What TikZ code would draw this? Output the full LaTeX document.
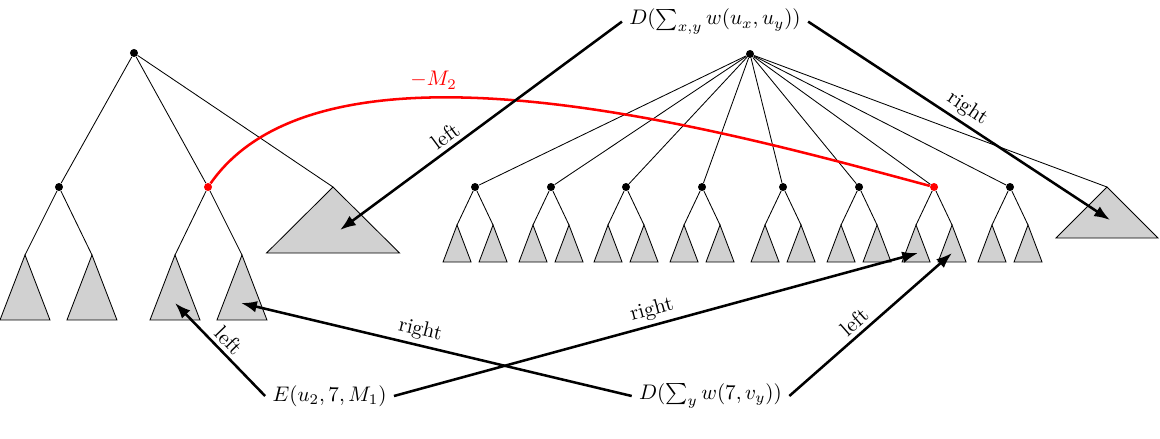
\documentclass[tikz,border=0pt]{standalone}
\usepackage{amsmath,amssymb}
\usepackage{tikz}
\usetikzlibrary{arrows.meta,positioning}

\begin{document}
\begin{tikzpicture}[
  dot/.style={circle, fill, inner sep=0pt, minimum size=3.8pt},
  reddot/.style={dot, fill=red},
  sub/.style={draw, fill=black!18},
  arrow/.style={-{Latex[length=7.5pt,width=5.5pt]}, very thick},
  side/.style={sloped, above, inner sep=2pt},
  bridge/.style={red, very thick},
]
\useasboundingbox (0,0) rectangle (19.333,7.3);

% Left tree
\node[dot] (lroot) at (2.233,6.417) {};
\node[dot] (la) at (0.983,4.183) {};
\node[reddot] (lb) at (3.467,4.183) {};
\coordinate (lc) at (5.55,4.183);
\draw[sub] (lc) -- ++(-1.108,-1.1) -- ++(2.217,0) -- cycle;
\draw (lroot) -- (la) (lroot) -- (lb) (lroot) -- (lc);

\foreach \n/\x in {l1/0.417, l2/1.533, l3/2.917, l4/4.033} {
  \coordinate (\n) at (\x,3.05);
  \draw[sub] (\n) -- ++(-0.417,-1.083) -- ++(0.833,0) -- cycle;
}
\draw (la) -- (l1) (la) -- (l2) (lb) -- (l3) (lb) -- (l4);

% Right tree
\node[dot] (rroot) at (12.5,6.4) {};
\foreach \i/\x/\s in {1/7.917/dot, 2/9.183/dot, 3/10.433/dot, 4/11.7/dot,
                      5/13.05/dot, 6/14.317/dot, 7/15.567/reddot, 8/16.833/dot} {
  \node[\s] (r\i) at (\x,4.183) {};
  \coordinate (r\i a) at (\x-0.3,3.55);
  \coordinate (r\i b) at (\x+0.3,3.55);
  \draw[sub] (r\i a) -- ++(-0.233,-0.617) -- ++(0.467,0) -- cycle;
  \draw[sub] (r\i b) -- ++(-0.233,-0.617) -- ++(0.467,0) -- cycle;
  \draw (rroot) -- (r\i);
  \draw (r\i) -- (r\i a) (r\i) -- (r\i b);
}
\coordinate (rc) at (18.45,4.183);
\draw[sub] (rc) -- ++(-0.85,-0.85) -- ++(1.7,0) -- cycle;
\draw (rroot) -- (rc);

% Matching edge
\draw[bridge] (lb) to[out=55, in=165, looseness=0.72]
  node[above, pos=0.37] {$-M_2$} (r7);

% Queries
\node (topD) at (11.917,6.94) {$D(\sum_{x,y} w(u_x,u_y))$};
\node (botE) at (5.492,0.7) {$E(u_2,7,M_1)$};
\node (botD) at (11.842,0.7) {$D(\sum_y w(7,v_y))$};

\coordinate (hitLL) at (2.917,2.25);
\coordinate (hitLR) at (4.017,2.25);
\coordinate (hitRL) at (15.3,3.083);
\coordinate (hitRR) at (15.867,3.083);
\coordinate (hitBL) at (5.667,3.467);
\coordinate (hitBR) at (18.5,3.633);

\draw[arrow] (topD.west) -- node[side, pos=0.6] {left} (hitBL);
\draw[arrow] (topD.east) -- node[side, pos=0.5] {right} (hitBR);
\draw[arrow] (botE.west) -- node[side] {left} (hitLL);
\draw[arrow] (botE.east) -- node[side] {right} (hitRL);
\draw[arrow] (botD.west) -- node[side, pos=0.55] {right} (hitLR);
\draw[arrow] (botD.east) -- node[side, pos=0.45] {left} (hitRR);

\end{tikzpicture}
\end{document}
